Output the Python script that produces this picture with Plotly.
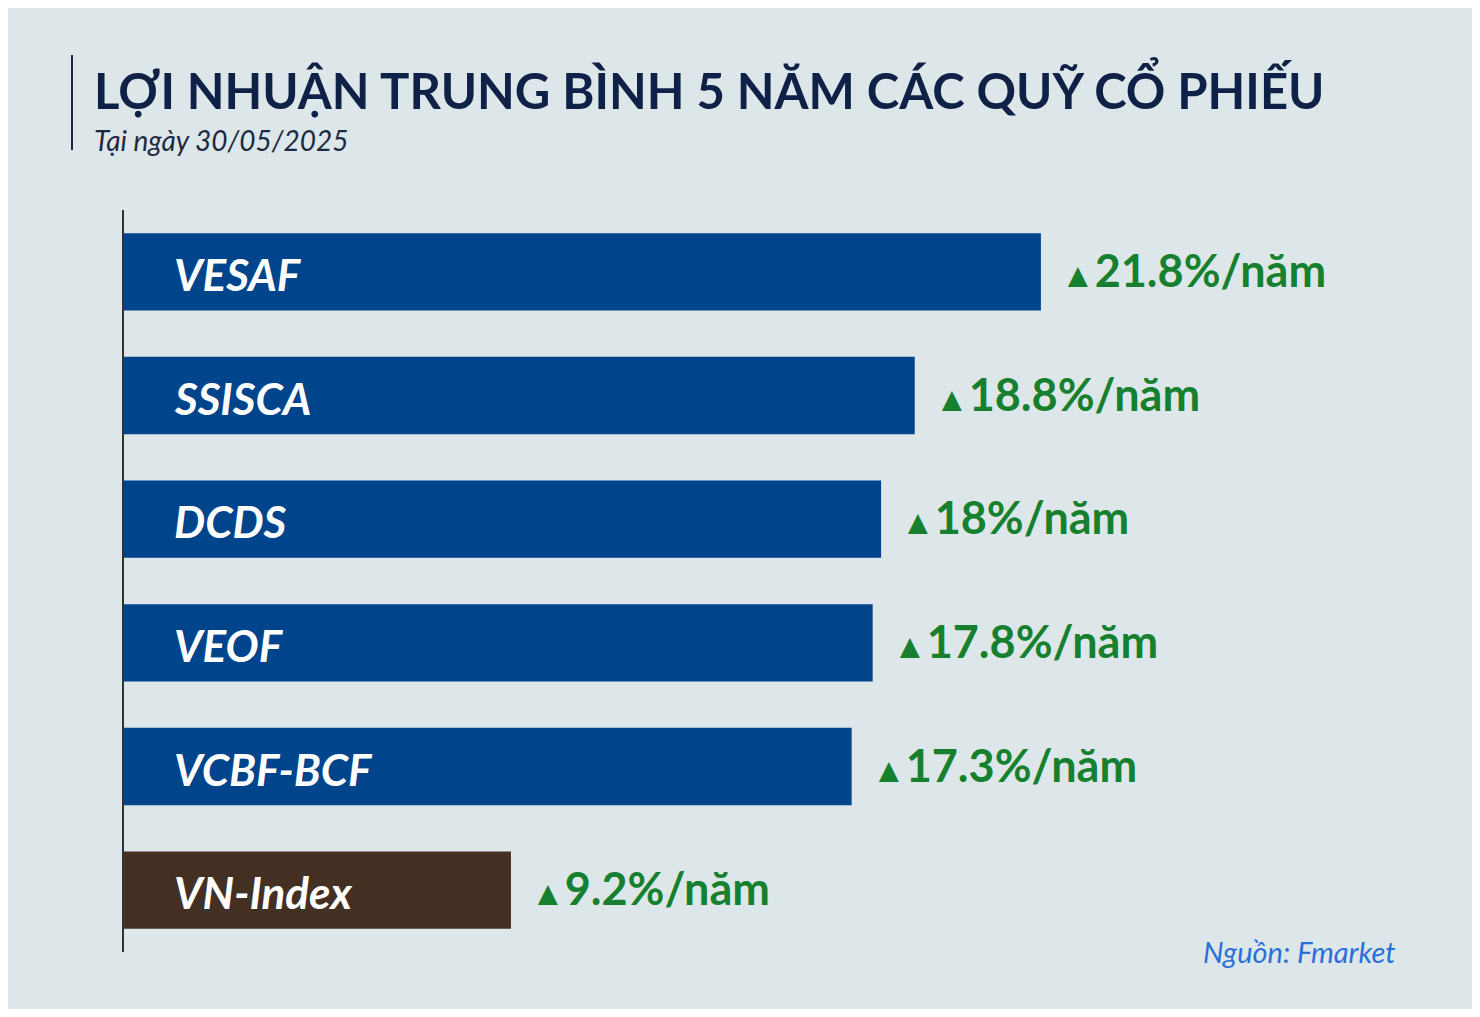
import plotly.graph_objects as go

funds = ['VESAF', 'SSISCA', 'DCDS', 'VEOF', 'VCBF-BCF', 'VN-Index']
returns = [21.8, 18.8, 18.0, 17.8, 17.3, 9.2]
value_labels = ['21.8%/năm', '18.8%/năm', '18%/năm', '17.8%/năm', '17.3%/năm', '9.2%/năm']
bar_colors = ['#00448c'] * 5 + ['#433022']

# the page body adds an 8px margin, so the figure is drawn 16px smaller
W, H = 1464, 1001
PW = W - 116
fig = go.Figure()
fig.add_trace(go.Bar(x=returns, y=funds, orientation='h', marker_color=bar_colors,
                     marker_line_width=0, hoverinfo='skip'))

for f, v, lab in zip(funds, returns, value_labels):
    fig.add_annotation(x=0, y=f, text='<b><i>' + f + '</i></b>', showarrow=False,
                       xanchor='left', xshift=48, yshift=-2,
                       font=dict(family='Lato', size=44, color='white'))
    fig.add_annotation(x=v, y=f, text="<span style='font-size:34px'>▲</span><b>" + lab + '</b>',
                       showarrow=False, xanchor='left', xshift=18, yshift=2,
                       font=dict(family='Lato', size=45, color='#16802e'))

fig.add_annotation(xref='paper', yref='paper', x=(92 - 124) / PW, y=1 + (210 - 88) / 742,
                   text='<b>LỢI NHUẬN TRUNG BÌNH 5 NĂM CÁC QUỸ CỔ PHIẾU</b>', showarrow=False,
                   xanchor='left', yanchor='middle', font=dict(family='Lato', size=49, color='#0f2146'))
fig.add_annotation(xref='paper', yref='paper', x=(92 - 124) / PW, y=1 + (210 - 140) / 742,
                   text='<i>Tại ngày 30/05/2025</i>', showarrow=False,
                   xanchor='left', yanchor='middle', font=dict(family='Lato', size=28, color='#1e2a40'))
fig.add_annotation(xref='paper', yref='paper', x=(1398 - 124) / PW, y=1 - (951 - 210) / 742,
                   text='<i>Nguồn: Fmarket</i>', showarrow=False,
                   xanchor='right', yanchor='middle', font=dict(family='Lato', size=29, color='#2b6fd8'))
fig.add_shape(type='line', xref='paper', yref='paper',
              x0=(72 - 124) / PW, x1=(72 - 124) / PW,
              y0=1 + (210 - 150) / 742, y1=1 + (210 - 55) / 742,
              line=dict(color='#1e2a40', width=2))

fig.update_layout(width=W, height=H, margin=dict(l=116, r=0, t=202, b=57),
                  paper_bgcolor='#dde7ea', plot_bgcolor='rgba(0,0,0,0)',
                  bargap=0.375, showlegend=False)
fig.update_xaxes(range=[0, PW / 42.06], visible=False)
fig.update_yaxes(autorange='reversed', showticklabels=False, showgrid=False,
                 showline=True, linecolor='#333333', linewidth=1.5, ticks='')

fig.write_html('out.html')
